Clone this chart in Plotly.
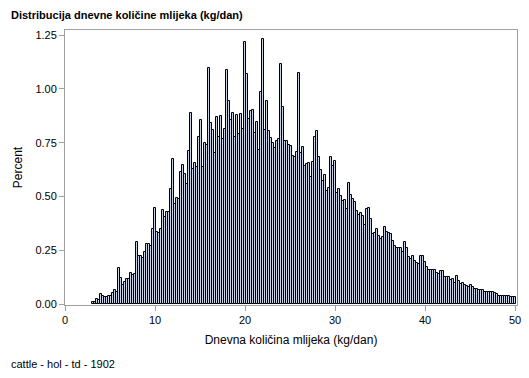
import plotly.graph_objects as go

title_text = "Distribucija dnevne količine mlijeka (kg/dan)"
x_title = "Dnevna količina mlijeka (kg/dan)"
y_title = "Percent"
footnote = "cattle - hol - td - 1902"

bin_start = 3.0
bin_width = 2 / 9

percent = [
    0.009, 0.012, 0.022, 0.019, 0.045, 0.037, 0.031, 0.034, 0.039, 0.040, 0.050, 0.068, 0.056,
    0.170,
    0.120, 0.090, 0.105, 0.118, 0.118, 0.147, 0.136, 0.138,
    0.287,
    0.222, 0.222, 0.214, 0.242,
    0.278, 0.279, 0.271, 0.347,
    0.445,
    0.336, 0.329, 0.347, 0.437, 0.403, 0.429, 0.426, 0.533,
    0.674,
    0.464, 0.492, 0.487, 0.613, 0.645, 0.603, 0.560, 0.711,
    0.887,
    0.626, 0.656, 0.639, 0.775, 0.856, 0.636, 0.747, 0.738,
    1.096,
    0.840, 0.809, 0.701, 0.868, 0.775, 0.874, 0.766, 0.812,
    1.088,
    0.944, 0.856, 0.887, 0.778, 0.879, 0.791, 0.884, 0.815,
    1.217,
    1.070, 0.859, 0.898, 0.902, 0.794, 0.847, 0.716, 0.986,
    1.231,
    0.811, 0.944, 0.805, 0.771, 0.747, 0.724, 0.758, 0.766,
    1.115,
    0.915, 0.758, 0.758, 0.740, 0.736, 0.690, 0.682, 0.705,
    1.073,
    0.701, 0.729, 0.643, 0.650, 0.657, 0.591, 0.659, 0.775,
    0.805,
    0.682, 0.622, 0.574, 0.598, 0.527,
    0.540, 0.682, 0.643, 0.664,
    0.515, 0.533, 0.504, 0.481, 0.484, 0.440, 0.561, 0.508, 0.487, 0.474,
    0.434, 0.412, 0.422, 0.409, 0.367, 0.440, 0.445, 0.394, 0.324, 0.330,
    0.347, 0.316, 0.301, 0.312, 0.360, 0.335,
    0.332, 0.326, 0.293, 0.270, 0.263, 0.259, 0.259, 0.243, 0.288, 0.263,
    0.217, 0.208, 0.226, 0.202, 0.189, 0.186, 0.223, 0.222, 0.198, 0.171,
    0.161, 0.161, 0.161, 0.161, 0.146, 0.140, 0.153, 0.153, 0.124, 0.124,
    0.124, 0.112, 0.115, 0.099, 0.130, 0.107, 0.093, 0.096, 0.088, 0.084,
    0.078, 0.087, 0.078, 0.071, 0.071, 0.064, 0.064, 0.064, 0.056, 0.056,
    0.056, 0.056, 0.058, 0.054, 0.045, 0.040, 0.040, 0.040, 0.036, 0.036,
    0.036, 0.031, 0.031, 0.031,
]

x_ticks = [0, 10, 20, 30, 40, 50]
y_ticks = [0.00, 0.25, 0.50, 0.75, 1.00, 1.25]

centers = [bin_start + bin_width * (i + 0.5) for i in range(len(percent))]

fig = go.Figure(
    go.Bar(
        x=centers,
        y=percent,
        width=bin_width,
        marker=dict(color="#C8D3E6", line=dict(color="#000000", width=1)),
        hoverinfo="skip",
    )
)

font_family = "Liberation Sans, Arial, sans-serif"
axis_common = dict(
    showline=True, mirror=True, linecolor="#A0A0A0", linewidth=1,
    ticks="outside", ticklen=5, tickcolor="#A0A0A0",
    showgrid=False, zeroline=False, automargin=False,
    tickfont=dict(family=font_family, size=11, color="#000000"),
)

L, R, T, B = 65, 12, 30, 73
W, H = 529, 378

fig.update_layout(
    width=W, height=H,
    margin=dict(l=L, r=R, t=T, b=B),
    paper_bgcolor="white", plot_bgcolor="white",
    bargap=0,
    showlegend=False,
    font=dict(family=font_family, color="#000000"),
    xaxis=dict(
        range=[0, 452 / 9], tickvals=x_ticks,
        title=dict(text=x_title, font=dict(size=12), standoff=10),
        **axis_common,
    ),
    yaxis=dict(
        range=[-0.004, 1.274], tickvals=y_ticks, tickformat=".2f",
        title=dict(text=y_title, font=dict(size=12), standoff=10),
        **axis_common,
    ),
)

plot_h = H - T - B
plot_w = W - L - R


def px_to_paper(px, py):
    return (px - L) / plot_w, 1 - (py - T) / plot_h


tx, ty = px_to_paper(9, 15)
fx, fy = px_to_paper(9, 364)
fig.add_annotation(text="<b>" + title_text + "</b>", x=tx, y=ty, xref="paper", yref="paper",
                   showarrow=False, xanchor="left", yanchor="middle",
                   font=dict(size=11, family=font_family))
fig.add_annotation(text=footnote, x=fx, y=fy, xref="paper", yref="paper",
                   showarrow=False, xanchor="left", yanchor="middle",
                   font=dict(size=11, family=font_family))

fig.write_html(
    "out.html",
    config={"displayModeBar": False},
    post_script="document.body.style.margin='0';document.body.style.padding='0';",
)
